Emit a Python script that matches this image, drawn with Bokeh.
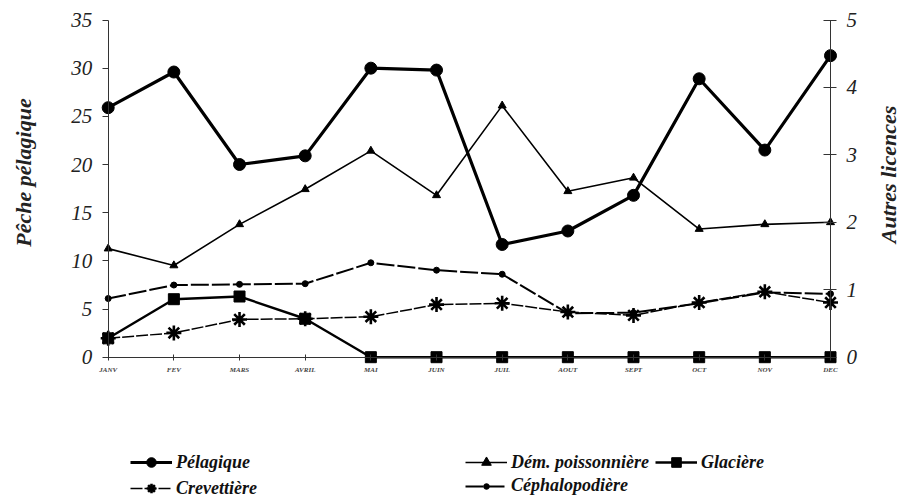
import math
from bokeh.plotting import figure
from bokeh.models import Range1d, LinearAxis, FixedTicker, Legend, LegendItem, Label
from bokeh.embed import file_html
from bokeh.resources import INLINE

months = ["JANV", "FEV", "MARS", "AVRIL", "MAI", "JUIN", "JUIL", "AOUT", "SEPT", "OCT", "NOV", "DEC"]
xs = list(range(len(months)))

pelagique = [25.9, 29.6, 20.0, 20.9, 30.0, 29.8, 11.7, 13.1, 16.8, 28.9, 21.5, 31.3]
dem_poissonniere = [1.61, 1.36, 1.97, 2.49, 3.06, 2.40, 3.73, 2.46, 2.66, 1.90, 1.97, 2.0]
glaciere = [0.28, 0.86, 0.90, 0.57, 0, 0, 0, 0, 0, 0, 0, 0]
crevettiere = [0.28, 0.36, 0.56, 0.57, 0.60, 0.78, 0.80, 0.67, 0.62, 0.81, 0.97, 0.81]
cephalopodiere = [0.87, 1.07, 1.08, 1.09, 1.40, 1.29, 1.23, 0.65, 0.66, 0.80, 0.96, 0.94]

left_ticks = [0, 5, 10, 15, 20, 25, 30, 35]
right_ticks = [0, 1, 2, 3, 4, 5]
left_title = "Pêche pélagique"
right_title = "Autres licences"

FONT = "Liberation Serif"
W, H = 900, 500
# screen placement of the axes box (pixels)
X0, X1 = 107.7, 830.0
Y0, Y35 = 356.7, 19.5
sx = (X1 - X0) / 11.0
sy = (Y0 - Y35) / 35.0


def dx(px):
    return (px - X0) / sx


def dy(py):
    return (Y0 - py) / sy


p = figure(width=W, height=H, output_backend="svg", toolbar_location=None,
           x_range=Range1d(dx(0), dx(W)), y_range=Range1d(dy(H), dy(0)),
           min_border_left=0, min_border_right=0, min_border_top=0, min_border_bottom=0,
           x_axis_location=None, y_axis_location=None)
p.outline_line_color = None
p.xgrid.visible = False
p.ygrid.visible = False
p.extra_y_ranges = {"right": Range1d(dy(H) / 7, dy(0) / 7)}

yl = LinearAxis(ticker=FixedTicker(ticks=left_ticks), fixed_location=0, bounds=(0, 35))
p.add_layout(yl, "left")
yr = LinearAxis(y_range_name="right", ticker=FixedTicker(ticks=right_ticks), fixed_location=11,
                bounds=(0, 5))
p.add_layout(yr, "right")
xa = LinearAxis(ticker=FixedTicker(ticks=xs), fixed_location=0, bounds=(0, 11),
                major_label_overrides={i: m for i, m in enumerate(months)})
p.add_layout(xa, "below")

for ax in (yl, yr):
    ax.major_label_text_font = FONT
    ax.major_label_text_font_style = "italic"
    ax.major_label_text_font_size = "21px"
    ax.major_label_text_color = "#222222"
    ax.minor_tick_line_color = None
    ax.axis_line_color = "#333333"
    ax.major_tick_line_color = "#333333"
    ax.major_label_standoff = 10
yl.major_tick_in = 0
yl.major_tick_out = 6
yr.major_tick_in = 7
yr.major_tick_out = 6

xa.major_label_text_font = FONT
xa.major_label_text_font_style = "bold italic"
xa.major_label_text_font_size = "7px"
xa.major_label_standoff = 6
xa.major_tick_in = 3
xa.major_tick_out = 3
xa.minor_tick_line_color = None
xa.axis_line_color = "#333333"
xa.major_tick_line_color = "#333333"

for txt, px, py in ((left_title, 23, 172), (right_title, 888, 174)):
    p.add_layout(Label(x=dx(px), y=dy(py), text=txt, angle=math.pi / 2,
                       text_align="center", text_baseline="middle",
                       text_font=FONT, text_font_style="bold italic",
                       text_font_size="22px", text_color="#222222"))

K = "black"
l1 = p.line(xs, pelagique, line_color=K, line_width=3.2)
m1 = p.scatter(xs, pelagique, marker="circle", size=12, color=K)

l2 = p.line(xs, dem_poissonniere, y_range_name="right", line_color=K, line_width=1.6)
m2 = p.scatter(xs, dem_poissonniere, y_range_name="right", marker="triangle", size=8, color=K)

l3 = p.line(xs, glaciere, y_range_name="right", line_color=K, line_width=2.4)
m3 = p.scatter(xs, glaciere, y_range_name="right", marker="square", size=11, color=K)

l4 = p.line(xs, crevettiere, y_range_name="right", line_color=K, line_width=1.5, line_dash="12 2")
m4 = p.scatter(xs, crevettiere, y_range_name="right", marker="asterisk", size=15,
               line_color=K, line_width=2.6)

l5 = p.line(xs, cephalopodiere, y_range_name="right", line_color=K, line_width=2.0, line_dash="18 3")
m5 = p.scatter(xs, cephalopodiere, y_range_name="right", marker="circle", size=6, color=K)


def make_legend(label, rends, loc, gh=24):
    lg = Legend(items=[LegendItem(label=label, renderers=rends)], location=loc,
                orientation="horizontal", padding=0, margin=0, spacing=0,
                glyph_width=42, glyph_height=gh, label_height=gh, label_standoff=4,
                border_line_color=None, background_fill_alpha=0,
                label_text_font=FONT, label_text_font_style="bold italic",
                label_text_font_size="18px", label_text_color="#111111")
    p.add_layout(lg, "center")


make_legend("Pélagique", [l1, m1], (130, H - 462 - 12))
make_legend("Dém. poissonnière", [l2, m2], (465, H - 462 - 12))
make_legend("Glacière", [l3, m3], (655, H - 462 - 12))
make_legend("Crevettière", [l4, m4], (130, H - 489 - 11))
make_legend("Céphalopodière", [l5, m5], (465, H - 489 - 7), gh=14)

open("out.html", "w").write(file_html(p, INLINE))
